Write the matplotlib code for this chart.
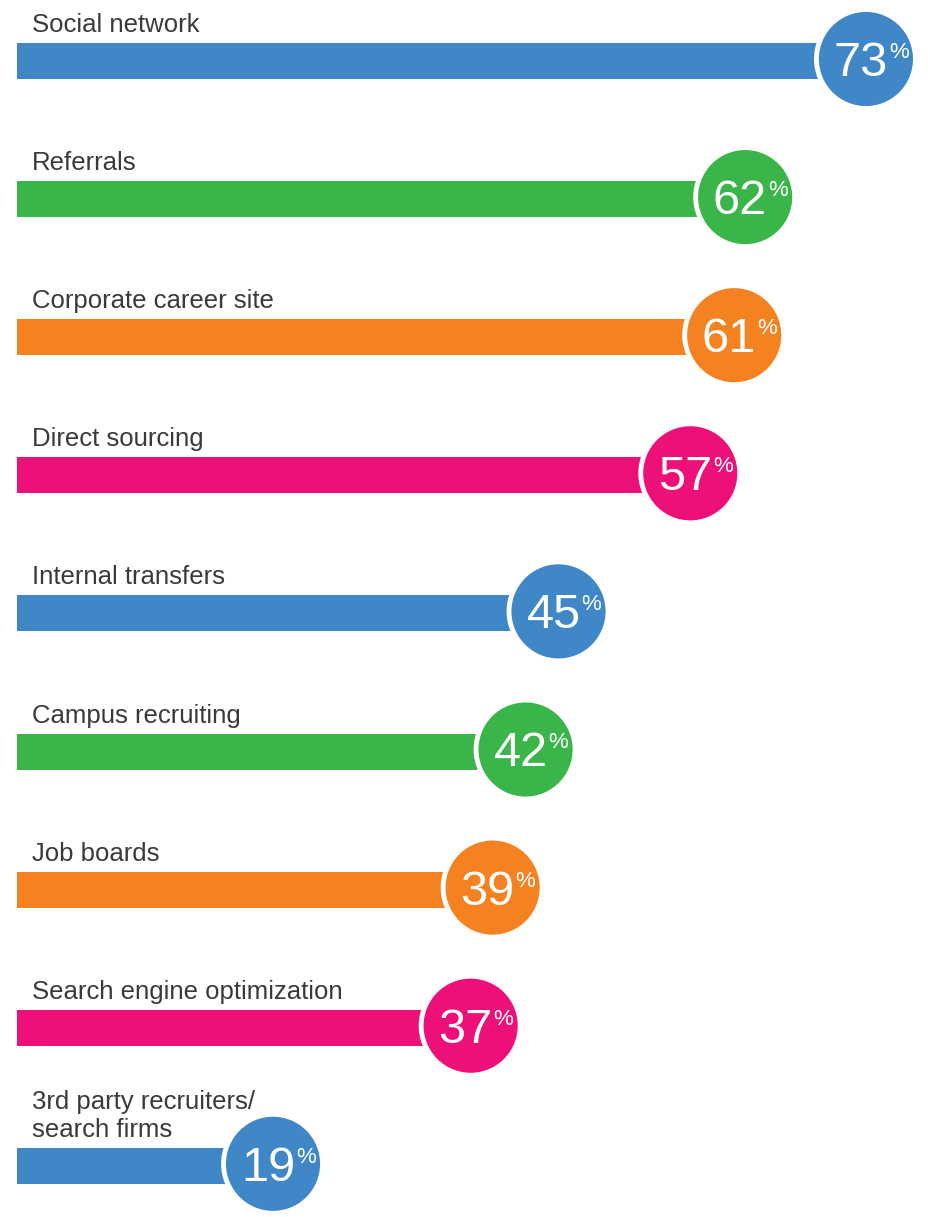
import numpy as np
import matplotlib
matplotlib.use('Agg')
import matplotlib.pyplot as plt
from matplotlib.patches import Circle

# Data
labels = ['Social network', 'Referrals', 'Corporate career site',
          'Direct sourcing', 'Internal transfers', 'Campus recruiting',
          'Job boards', 'Search engine optimization',
          '3rd party recruiters/\nsearch firms']
values = [73, 62, 61, 57, 45, 42, 39, 37, 19]
colors = ['#3F87C7', '#39B54A', '#F58220', '#EC1078',
          '#3F87C7', '#39B54A', '#F58220', '#EC1078', '#3F87C7']

W, H = 930, 1217
fig = plt.figure(figsize=(W / 100, H / 100), dpi=100)
ax = fig.add_axes([0, 0, 1, 1])
ax.set_xlim(0, W)
ax.set_ylim(H, 0)
ax.axis('off')

# layout in pixel units
x0 = 17
scale = 10.98      # px per percent for circle centre
offset = 64.4
row0, step = 61, 138.1
bar_h = 36
rad = 49.5

for i, (lab, v, c) in enumerate(zip(labels, values, colors)):
    yc = row0 + i * step
    cx = offset + scale * v
    ax.barh(yc, cx - x0, left=x0, height=bar_h, color=c, zorder=2)
    ax.add_patch(Circle((cx, yc - 2), rad, facecolor=c, edgecolor='white',
                        linewidth=3.5, zorder=3))
    ax.text(32, yc - bar_h / 2 - 6, lab, fontsize=18.5, color='#3a3a3a',
            family='Liberation Sans', ha='left', va='bottom',
            linespacing=1.2)
    ax.text(cx + 22, yc + 15, str(v), fontsize=35, color='white',
            family='Liberation Sans', ha='right',
            va='baseline', zorder=4)
    ax.text(cx + 23, yc - 3, '%', fontsize=16, color='white',
            family='Liberation Sans', ha='left',
            va='baseline', zorder=4)

plt.savefig('out.png', dpi=100)
